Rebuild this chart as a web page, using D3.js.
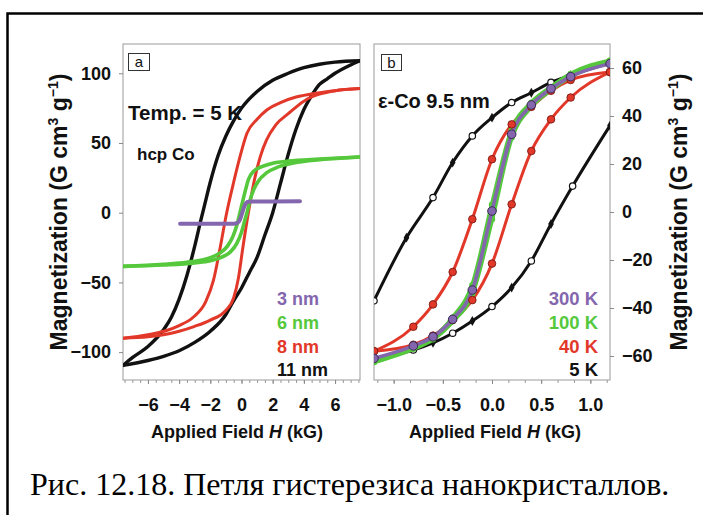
<!DOCTYPE html>
<html><head><meta charset="utf-8">
<script src="https://cdn.jsdelivr.net/npm/d3@7"></script>
<style>body{margin:0;background:#fff}svg{display:block}</style>
</head><body><svg id="c" width="703" height="515"></svg>
<script>
// ---------- data: panel a (hcp Co, 5 K) [H kG, M] ----------
const a11Up = [[7.6,109],[6,108],[5,106.5],[4,104],[3,100],[2,95],[1,87],[0,75],[-0.5,66],[-1,55],[-1.5,41],[-2,22],[-2.4,4],[-2.6,-5],[-3,-24],[-3.5,-45],[-4,-62],[-4.5,-75],[-5,-84],[-6,-96],[-7,-104],[-7.6,-109.5]];
const a11Dn = [[-7.6,-109.5],[-6,-106],[-5,-103],[-4,-99],[-3,-93],[-2,-85],[-1,-73],[-0.5,-63],[0,-54],[0.5,-43],[1,-32],[1.5,-16],[2,0],[2.5,21],[3,42],[3.5,60],[4,74],[4.5,84],[5,92],[5.5,96],[6,100],[7,106],[7.6,109]];
const a8Up = [[7.6,89],[6,87.5],[4.4,85],[3.5,83],[2.5,79],[1.6,73.5],[1,67],[0.35,57],[-0.1,40],[-0.5,22],[-0.95,0],[-1.4,-27],[-1.8,-48.6],[-2.3,-64],[-3.1,-75],[-4,-81],[-4.8,-84.5],[-6,-87.5],[-7.6,-90]];
const a8Dn = [[-7.6,-90],[-6,-89],[-5,-87.5],[-4,-85],[-3,-81.5],[-2,-77],[-1,-70],[-0.5,-61],[-0.2,-47],[0.1,-24],[0.44,0],[0.8,22],[1.2,40],[1.6,52],[2.2,63],[3,71],[4,80],[4.5,83],[5,85],[6,87.5],[7.6,89]];
const a6Up = [[7.6,40],[5,38.5],[3,37],[2,35.5],[1.3,33],[0.8,30],[0.45,24],[0.25,16],[0.05,7],[-0.1,0],[-0.3,-9],[-0.55,-17],[-0.9,-24],[-1.4,-29],[-2.2,-33],[-3.5,-35.5],[-5,-37],[-7.6,-38.5]];
const a6Dn = [[-7.6,-38.5],[-5,-37.5],[-3,-36],[-2,-34.5],[-1.3,-32],[-0.7,-28],[-0.3,-22],[0,-14],[0.2,-6],[0.35,0],[0.55,9],[0.8,17],[1.1,23],[1.6,28.5],[2.4,33],[3.5,36],[5,38],[7.6,40]];
const a3 = [[-3.94,-8],[-2,-8],[-0.5,-7.9],[-0.25,-7.2],[-0.1,-5],[0.05,0],[0.2,5],[0.35,7.5],[0.6,8],[2,8.1],[3.75,8.2]];
const sizeLabels = ["3 nm","6 nm","8 nm","11 nm"];
const aTicksX = [-6,-4,-2,0,2,4,6];
const aTicksY = [-100,-50,0,50,100];

// ---------- data: panel b (ε-Co 9.5 nm) ----------
const b5Up = [[1.2,62],[0.8,57],[0.6,54],[0.4,49.7],[0.2,45.6],[0,39.3],[-0.2,31.7],[-0.4,20.6],[-0.6,6],[-0.87,-10.7],[-1.2,-37]];
const b5Dn = [[-1.2,-61],[-0.8,-57.5],[-0.6,-54.5],[-0.4,-50.5],[-0.2,-45.4],[0,-39.4],[0.2,-31.5],[0.4,-20.4],[0.6,-5],[0.82,10.8],[1.2,36]];
const b40Up = [[1.2,58.3],[0.8,55],[0.6,50.5],[0.4,43.8],[0.2,36.5],[0,22],[-0.2,-3],[-0.4,-25],[-0.6,-38.5],[-0.8,-47.8],[-1.2,-58]];
const b40Dn = [[-1.2,-58],[-0.8,-55.3],[-0.6,-51.5],[-0.4,-45],[-0.2,-36.7],[0,-21.5],[0.2,3.2],[0.4,25.4],[0.6,38.6],[0.8,47.7],[1.2,58.3]];
const b100Up = [[1.2,63],[0.8,57.5],[0.6,52],[0.4,45.5],[0.2,34],[0,3],[-0.2,-30.5],[-0.4,-44],[-0.6,-52.5],[-0.8,-56.5],[-1.2,-62.5]];
const b100Dn = [[-1.2,-62.5],[-0.8,-57],[-0.6,-53],[-0.4,-45.5],[-0.2,-34],[0,-3],[0.2,31],[0.4,44],[0.6,51],[0.8,56.5],[1.2,63]];
const b300 = [[-1.2,-61],[-0.8,-55.8],[-0.6,-52],[-0.4,-44.7],[-0.2,-32.5],[0,0.4],[0.2,32.4],[0.4,44.6],[0.6,51.4],[0.8,56.4],[1.2,61.8]];
const tempLabels = ["300 K","100 K","40 K","5 K"];
const bTicksX = [-1.0,-0.5,0.0,0.5,1.0];
const bTicksY = [-60,-40,-20,0,20,40,60];

const colPurple = "#8366ad", colGreen = "#55c83c", colRed = "#e2382a", colBlack = "#111";
const SANS = "'Liberation Sans', Arial, sans-serif";

const svg = d3.select("#c");
svg.append("rect").attr("width",703).attr("height",515).attr("fill","#fff");
svg.append("rect").attr("x",7.5).attr("y",13.5).attr("width",740).attr("height",560)
  .attr("fill","none").attr("stroke","#000").attr("stroke-width",2.5);

// ---------------- Panel a ----------------
const xa = d3.scaleLinear().domain([-7.6,7.6]).range([123,360]);
const ya = d3.scaleLinear().domain([-120,121]).range([380,44]);
const ga = svg.append("g");
ga.append("clipPath").attr("id","clipA").append("rect")
  .attr("x",123).attr("y",44).attr("width",237).attr("height",336);
ga.append("rect").attr("x",123).attr("y",44).attr("width",237).attr("height",336)
  .attr("fill","none").attr("stroke","#9a9a9a").attr("stroke-width",1);

ga.append("g").attr("transform","translate(0,380)")
  .call(d3.axisBottom(xa).tickValues(d3.range(-7.5,7.51,0.5)).tickSize(3).tickFormat(""))
  .call(g=>{g.select(".domain").remove();g.selectAll("line").attr("stroke","#999");});
ga.append("g").attr("transform","translate(0,380)")
  .call(d3.axisBottom(xa).tickValues(aTicksX).tickSize(4).tickPadding(14.5).tickFormat(d3.format("d")))
  .call(g=>{g.select(".domain").remove();g.selectAll("line").attr("stroke","#888");
    g.selectAll("text").attr("font-family",SANS).attr("font-weight","bold").attr("font-size",18).attr("fill","#111");});
ga.append("g").attr("transform","translate(123,0)")
  .call(d3.axisLeft(ya).tickValues(aTicksY).tickSize(4).tickPadding(8).tickFormat(d3.format("d")))
  .call(g=>{g.select(".domain").remove();g.selectAll("line").attr("stroke","#888");
    g.selectAll("text").attr("font-family",SANS).attr("font-weight","bold").attr("font-size",18).attr("fill","#111");});

const lineA = d3.line().x(d=>xa(d[0])).y(d=>ya(d[1])).curve(d3.curveMonotoneX);
const srt = arr => arr.slice().sort((p,q)=>p[0]-q[0]);
const curvesA = [
  [a11Up,colBlack,3.4],[a11Dn,colBlack,3.4],
  [a8Up,colRed,3],[a8Dn,colRed,3],
  [a6Up,colGreen,3.6],[a6Dn,colGreen,3.6],
  [a3,colPurple,4]
];
const cA = ga.append("g").attr("clip-path","url(#clipA)");
curvesA.forEach(([d,c,w])=>{
  cA.append("path").attr("d",lineA(srt(d))).attr("fill","none").attr("stroke",c)
    .attr("stroke-width",w).attr("stroke-linecap","round");
});

ga.append("rect").attr("x",128.5).attr("y",53.5).attr("width",21).attr("height",17)
  .attr("fill","#fff").attr("stroke","#333").attr("stroke-width",1);
ga.append("text").attr("x",139).attr("y",67).attr("text-anchor","middle")
  .attr("font-family",SANS).attr("font-size",15).attr("fill","#111").text("a");
ga.append("text").attr("x",128).attr("y",120).attr("font-family",SANS).attr("font-weight","bold")
  .attr("font-size",20.5).attr("fill","#111").text("Temp. = 5 K");
ga.append("text").attr("x",137).attr("y",160).attr("font-family",SANS).attr("font-weight","bold")
  .attr("font-size",17).attr("fill","#111").text("hcp Co");
const colsA = [colPurple,colGreen,colRed,colBlack];
ga.selectAll(".legA").data(sizeLabels).join("text")
  .attr("x",277).attr("y",(d,i)=>305+i*23.8)
  .attr("font-family",SANS).attr("font-weight","bold").attr("font-size",18)
  .attr("fill",(d,i)=>colsA[i]).text(d=>d);

// ---------------- Panel b ----------------
const xb = d3.scaleLinear().domain([-1.2,1.2]).range([374,610]);
const yb = d3.scaleLinear().domain([-70,70]).range([380,44]);
const gb = svg.append("g");
gb.append("clipPath").attr("id","clipB").append("rect")
  .attr("x",374).attr("y",44).attr("width",236).attr("height",336);
gb.append("rect").attr("x",374).attr("y",44).attr("width",236).attr("height",336)
  .attr("fill","none").attr("stroke","#9a9a9a").attr("stroke-width",1);
gb.append("g").attr("transform","translate(0,380)")
  .call(d3.axisBottom(xb).tickValues(d3.range(-7,8).map(k=>k/6)).tickSize(3).tickFormat(""))
  .call(g=>{g.select(".domain").remove();g.selectAll("line").attr("stroke","#999");});
gb.append("g").attr("transform","translate(0,380)")
  .call(d3.axisBottom(xb).tickValues(bTicksX).tickSize(4).tickPadding(14.5).tickFormat(d3.format(".1f")))
  .call(g=>{g.select(".domain").remove();g.selectAll("line").attr("stroke","#888");
    g.selectAll("text").attr("font-family",SANS).attr("font-weight","bold").attr("font-size",18).attr("fill","#111");});
gb.append("g").attr("transform","translate(610,0)")
  .call(d3.axisRight(yb).tickValues(bTicksY).tickSize(4).tickPadding(8).tickFormat(d3.format("d")))
  .call(g=>{g.select(".domain").remove();g.selectAll("line").attr("stroke","#888");
    g.selectAll("text").attr("font-family",SANS).attr("font-weight","bold").attr("font-size",18).attr("fill","#111");});

const lineB = d3.line().x(d=>xb(d[0])).y(d=>yb(d[1])).curve(d3.curveMonotoneX);
const cB = gb.append("g").attr("clip-path","url(#clipB)");
function drawB(data,color,w){
  cB.append("path").attr("d",lineB(srt(data))).attr("fill","none").attr("stroke",color)
    .attr("stroke-width",w).attr("stroke-linecap","round");
}
drawB(b5Up,colBlack,3); drawB(b5Dn,colBlack,3);
[[b5Up,0],[b5Dn,1]].forEach(([d,par])=>{
  d.forEach((p,i)=>{
    const open = (i+par)%2===0;
    if(open){
      cB.append("circle").attr("cx",xb(p[0])).attr("cy",yb(p[1])).attr("r",3.2)
        .attr("fill","#fff").attr("stroke","#111").attr("stroke-width",1.2);
    } else {
      cB.append("path").attr("d",d3.symbol(d3.symbolDiamond,28)())
        .attr("transform",`translate(${xb(p[0])},${yb(p[1])})`).attr("fill","#111");
    }
  });
});
drawB(b40Up,colRed,3); drawB(b40Dn,colRed,3);
drawB(b100Up,colGreen,4.5); drawB(b100Dn,colGreen,4.5);
[b100Up,b100Dn].forEach(d=>d.forEach(p=>{
  cB.append("circle").attr("cx",xb(p[0])).attr("cy",yb(p[1])).attr("r",3.2).attr("fill",colGreen);
}));
drawB(b300,colPurple,3.6);
[b40Up,b40Dn].forEach(d=>d.forEach(p=>{
  cB.append("circle").attr("cx",xb(p[0])).attr("cy",yb(p[1])).attr("r",3.8)
    .attr("fill",colRed).attr("stroke","#7a1a12").attr("stroke-width",0.9);
}));
b300.forEach(p=>{
  cB.append("circle").attr("cx",xb(p[0])).attr("cy",yb(p[1])).attr("r",4.3)
    .attr("fill",colPurple).attr("stroke","#3a2a55").attr("stroke-width",1);
});

gb.append("rect").attr("x",381.5).attr("y",54.5).attr("width",20).attr("height",16)
  .attr("fill","#fff").attr("stroke","#333").attr("stroke-width",1);
gb.append("text").attr("x",391.5).attr("y",67.5).attr("text-anchor","middle")
  .attr("font-family",SANS).attr("font-size",15).attr("fill","#111").text("b");
gb.append("text").attr("x",378).attr("y",108).attr("font-family",SANS).attr("font-weight","bold")
  .attr("font-size",20).attr("fill","#111").text("ε-Co 9.5 nm");
const colsB = [colPurple,colGreen,colRed,colBlack];
gb.selectAll(".legB").data(tempLabels).join("text")
  .attr("x",598).attr("y",(d,i)=>305+i*23.8).attr("text-anchor","end")
  .attr("font-family",SANS).attr("font-weight","bold").attr("font-size",18.5)
  .attr("fill",(d,i)=>colsB[i]).text(d=>d);

// ---------------- axis titles ----------------
function yTitle(x){
  const t = svg.append("text").attr("transform",`translate(${x},212) rotate(-90)`)
    .attr("text-anchor","middle").attr("font-family",SANS).attr("font-weight","bold")
    .attr("font-size",23).attr("fill","#111");
  t.append("tspan").text("Magnetization (G cm");
  t.append("tspan").attr("font-size",14).attr("dy",-9).text("3");
  t.append("tspan").attr("dy",9).text(" g");
  t.append("tspan").attr("font-size",14).attr("dy",-9).text("−1");
  t.append("tspan").attr("dy",9).text(")");
}
yTitle(67); yTitle(687);
function xTitle(x){
  const t = svg.append("text").attr("x",x).attr("y",438).attr("text-anchor","middle")
    .attr("font-family",SANS).attr("font-weight","bold").attr("font-size",18).attr("fill","#111");
  t.append("tspan").text("Applied Field ");
  t.append("tspan").attr("font-style","italic").text("H");
  t.append("tspan").text(" (kG)");
}
xTitle(237); xTitle(495);

svg.append("text").attr("x",30).attr("y",495)
  .attr("font-family","'Liberation Serif','Times New Roman',serif").attr("font-size",32)
  .attr("fill","#000").text("Рис. 12.18. Петля гистерезиса нанокристаллов.");
</script></body></html>
